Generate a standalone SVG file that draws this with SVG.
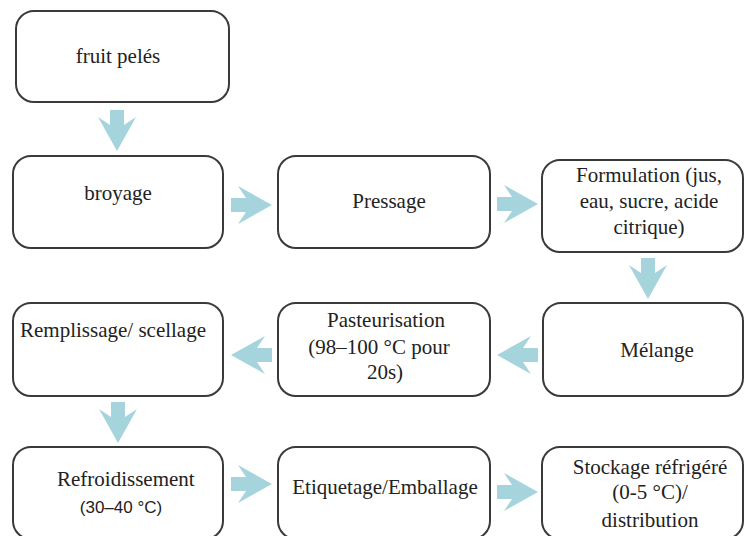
<svg xmlns="http://www.w3.org/2000/svg" xmlns:xlink="http://www.w3.org/1999/xlink" width="745" height="536" viewBox="0 0 745 536">
<style>
.box{fill:#fff;stroke:#3a3a3a;stroke-width:2}
.t{font-family:'Liberation Serif','DejaVu Serif','Times New Roman',serif;font-size:21px;fill:#222;text-anchor:middle}
.s{font-family:'Liberation Sans',Arial,sans-serif;font-size:17px;fill:#222;text-anchor:middle}
.arr{fill:#a6d4dc}
</style>
<defs>
<polygon id="arr" points="0,-7 15,-7 7,-19 41,0 7,19 15,7 0,7"/>
</defs>
<rect width="745" height="536" fill="#fff"/>
<g id="connectors" class="arr">
<use xlink:href="#arr" transform="translate(117,110) rotate(90)"/>
<use xlink:href="#arr" transform="translate(231,205)"/>
<use xlink:href="#arr" transform="translate(497,204)"/>
<use xlink:href="#arr" transform="translate(648,258) rotate(90)"/>
<use xlink:href="#arr" transform="translate(538,355) rotate(180)"/>
<use xlink:href="#arr" transform="translate(272,355) rotate(180)"/>
<use xlink:href="#arr" transform="translate(118,402) rotate(90)"/>
<use xlink:href="#arr" transform="translate(231,484)"/>
<use xlink:href="#arr" transform="translate(497,492)"/>
</g>
<g id="n1"><rect class="box" x="16" y="11" width="213" height="91" rx="18"/><text class="t" x="118" y="63">fruit pelés</text></g>
<g id="n2"><rect class="box" x="13" y="156" width="210" height="92" rx="18"/><text class="t" x="118" y="200">broyage</text></g>
<g id="n3"><rect class="box" x="278" y="156" width="212" height="92" rx="18"/><text class="t" x="389" y="208">Pressage</text></g>
<g id="n4"><rect class="box" x="542" y="160" width="201" height="92" rx="18"/><text class="t" x="649" y="182">Formulation (jus,</text><text class="t" x="649" y="208">eau, sucre, acide</text><text class="t" x="649" y="234">citrique)</text></g>
<g id="n5"><rect class="box" x="543" y="303" width="200" height="93" rx="18"/><text class="t" x="657" y="357">Mélange</text></g>
<g id="n6"><rect class="box" x="278" y="303" width="212" height="93" rx="18"/><text class="t" x="386" y="327">Pasteurisation</text><text class="t" x="379" y="354">(98–100 °C pour</text><text class="t" x="385" y="379">20s)</text></g>
<g id="n7"><rect class="box" x="13" y="303" width="210" height="93" rx="18"/><text class="t" x="113" y="337">Remplissage/ scellage</text></g>
<g id="n8"><rect class="box" x="13" y="447" width="210" height="92" rx="18"/><text class="t" x="57" y="486" style="text-anchor:start">Refroidissement</text><text class="s" x="121" y="513">(30–40 °C)</text></g>
<g id="n9"><rect class="box" x="278" y="447" width="212" height="92" rx="18"/><text class="t" x="385" y="494">Etiquetage/Emballage</text></g>
<g id="n10"><rect class="box" x="542" y="447" width="201" height="92" rx="18"/><text class="t" x="650" y="474">Stockage réfrigéré</text><text class="t" x="650" y="499">(0-5 °C)/</text><text class="t" x="650" y="527">distribution</text></g>
</svg>
